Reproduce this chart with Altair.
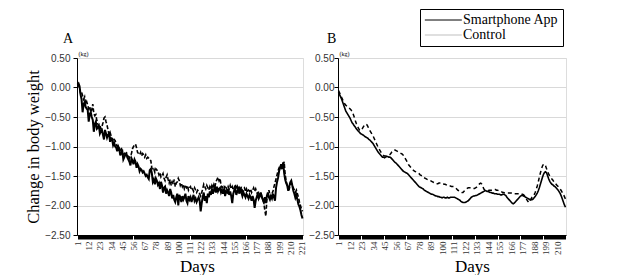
import altair as alt
import pandas as pd

# ---------------- data ----------------
a_app = [
    0.05, 0.07, 0.02, -0.12, -0.20, -0.42, -0.28, -0.25, -0.33, -0.36,
    -0.38, -0.58, -0.45, -0.42, -0.50, -0.55, -0.75, -0.62, -0.58, -0.70,
    -0.68, -0.65, -0.78, -0.74, -0.72, -0.80, -0.88, -0.72, -0.78, -0.85,
    -0.80, -0.78, -0.92, -0.86, -0.88, -0.98, -0.94, -1.00, -1.02, -1.08,
    -1.00, -1.04, -1.15, -1.10, -1.08, -1.22, -1.18, -1.14, -1.12, -1.18,
    -1.22, -1.26, -1.32, -1.20, -1.24, -1.30, -1.22, -1.26, -1.36, -1.30,
    -1.34, -1.42, -1.38, -1.40, -1.44, -1.42, -1.46, -1.50, -1.48, -1.52,
    -1.55, -1.40, -1.38, -1.45, -1.60, -1.56, -1.64, -1.54, -1.58, -1.65,
    -1.62, -1.72, -1.60, -1.66, -1.78, -1.70, -1.68, -1.80, -1.74, -1.78,
    -1.84, -1.72, -1.78, -1.88, -1.82, -1.90, -1.94, -1.86, -1.80, -2.00,
    -1.82, -1.86, -1.94, -1.84, -1.90, -1.86, -1.80, -1.92, -1.96, -1.84,
    -1.90, -1.86, -1.94, -1.88, -1.82, -1.92, -1.88, -1.94, -1.90, -1.86,
    -1.92, -2.10, -1.96, -1.86, -1.78, -1.92, -1.84, -1.96, -1.80, -1.86,
    -1.76, -1.82, -1.72, -1.80, -1.74, -1.70, -1.78, -1.68, -1.76, -1.72,
    -1.70, -1.78, -1.74, -1.80, -1.72, -1.84, -1.76, -1.78, -1.72, -1.82,
    -1.76, -1.84, -1.96, -1.80, -1.74, -1.72, -1.82, -1.76, -1.72, -1.80,
    -1.70, -1.78, -1.84, -1.78, -1.82, -1.86, -1.80, -1.84, -1.88, -1.82,
    -1.86, -1.92, -1.84, -1.90, -2.04, -1.92, -1.86, -1.80, -1.88, -1.84,
    -1.78, -1.86, -1.90, -1.94, -1.86, -1.96, -1.84, -1.78, -1.86, -1.90,
    -1.84, -1.88, -1.80, -1.86, -1.92, -1.70, -1.60, -1.53, -1.42, -1.36,
    -1.30, -1.38, -1.27, -1.45, -1.56, -1.62, -1.66, -1.75, -1.68, -1.61,
    -1.58, -1.66, -1.75, -1.80, -1.87, -1.82, -1.90, -1.98, -2.02, -2.08,
    -2.16, -2.22,
]
a_control = [
    0.06, 0.04, -0.02, -0.10, -0.08, -0.14, -0.20, -0.16, -0.28, -0.24,
    -0.30, -0.36, -0.32, -0.42, -0.38, -0.28, -0.44, -0.48, -0.46, -0.56,
    -0.62, -0.66, -0.64, -0.70, -0.66, -0.60, -0.52, -0.50, -0.58, -0.64,
    -0.72, -0.80, -0.76, -0.82, -0.86, -0.92, -0.88, -0.90, -0.96, -1.00,
    -0.98, -1.04, -1.06, -1.02, -1.10, -1.14, -1.12, -1.16, -1.10, -1.18,
    -1.14, -1.20, -1.16, -1.12, -1.04, -1.00, -0.98, -0.96, -1.02, -1.10,
    -1.12, -1.14, -1.10, -1.16, -1.12, -1.14, -1.18, -1.14, -1.20, -1.18,
    -1.20, -1.22, -1.24, -1.36, -1.40, -1.38, -1.44, -1.38, -1.40, -1.42,
    -1.48, -1.44, -1.52, -1.50, -1.46, -1.54, -1.58, -1.52, -1.48, -1.56,
    -1.62, -1.56, -1.66, -1.60, -1.64, -1.56, -1.68, -1.62, -1.60, -1.54,
    -1.58, -1.66, -1.62, -1.68, -1.64, -1.72, -1.68, -1.70, -1.66, -1.74,
    -1.70, -1.68, -1.74, -1.72, -1.76, -1.70, -1.74, -1.78, -1.74, -1.76,
    -1.80, -1.84, -1.78, -1.72, -1.64, -1.68, -1.72, -1.66, -1.70, -1.74,
    -1.68, -1.72, -1.66, -1.70, -1.64, -1.68, -1.60, -1.56, -1.52, -1.58,
    -1.54, -1.66, -1.70, -1.68, -1.72, -1.66, -1.70, -1.74, -1.68, -1.72,
    -1.66, -1.72, -1.68, -1.74, -1.70, -1.64, -1.72, -1.68, -1.76, -1.70,
    -1.74, -1.68, -1.76, -1.72, -1.70, -1.76, -1.72, -1.78, -1.74, -1.76,
    -1.72, -1.78, -1.74, -1.70, -1.76, -1.72, -1.78, -1.80, -1.76, -1.82,
    -1.78, -1.84, -1.90, -1.96, -2.08, -2.18, -1.90, -1.80, -1.74, -1.82,
    -1.86, -1.80, -1.76, -1.68, -1.62, -1.55, -1.48, -1.41, -1.36, -1.33,
    -1.36, -1.30, -1.32, -1.26, -1.48, -1.58, -1.66, -1.70, -1.72, -1.64,
    -1.62, -1.66, -1.70, -1.74, -1.78, -1.74, -1.80, -1.86, -1.94, -2.00,
    -2.06, -2.10,
]
b_app = [
    -0.08, -0.12, -0.16, -0.20, -0.25, -0.30, -0.35, -0.40, -0.43, -0.46,
    -0.49, -0.52, -0.56, -0.60, -0.62, -0.65, -0.67, -0.70, -0.72, -0.74,
    -0.76, -0.78, -0.79, -0.80, -0.81, -0.83, -0.84, -0.85, -0.86, -0.88,
    -0.89, -0.91, -0.93, -0.95, -0.98, -1.01, -1.04, -1.07, -1.10, -1.12,
    -1.14, -1.16, -1.18, -1.18, -1.19, -1.18, -1.17, -1.17, -1.18, -1.18,
    -1.19, -1.21, -1.23, -1.25, -1.27, -1.28, -1.30, -1.32, -1.34, -1.36,
    -1.38, -1.40, -1.42, -1.43, -1.44, -1.45, -1.46, -1.48, -1.50, -1.52,
    -1.54, -1.56, -1.58, -1.60, -1.62, -1.64, -1.66, -1.68, -1.69, -1.70,
    -1.71, -1.72, -1.74, -1.75, -1.76, -1.77, -1.78, -1.79, -1.80, -1.81,
    -1.81, -1.82, -1.83, -1.84, -1.84, -1.85, -1.85, -1.86, -1.86, -1.87,
    -1.86, -1.86, -1.87, -1.87, -1.86, -1.87, -1.87, -1.86, -1.86, -1.86,
    -1.86, -1.86, -1.87, -1.88, -1.89, -1.90, -1.91, -1.93, -1.94, -1.95,
    -1.95, -1.95, -1.94, -1.93, -1.92, -1.90, -1.88, -1.86, -1.85, -1.84,
    -1.84, -1.83, -1.83, -1.82, -1.81, -1.80, -1.79, -1.78, -1.77, -1.76,
    -1.75, -1.75, -1.76, -1.76, -1.77, -1.78, -1.78, -1.79, -1.79, -1.80,
    -1.80, -1.80, -1.81, -1.81, -1.81, -1.82, -1.82, -1.81, -1.81, -1.82,
    -1.83, -1.86, -1.88, -1.90, -1.92, -1.94, -1.96, -1.97, -1.96, -1.94,
    -1.92, -1.90, -1.88, -1.86, -1.84, -1.83, -1.83, -1.84, -1.85, -1.86,
    -1.87, -1.88, -1.89, -1.90, -1.90, -1.90, -1.89, -1.87, -1.85, -1.82,
    -1.79, -1.75, -1.70, -1.64, -1.58, -1.52, -1.47, -1.44, -1.43, -1.45,
    -1.50, -1.55, -1.59, -1.62, -1.64, -1.65, -1.67, -1.68, -1.70, -1.72,
    -1.74, -1.77, -1.80, -1.84, -1.89, -1.94, -1.99, -2.03,
]
b_control = [
    -0.05, -0.09, -0.13, -0.17, -0.21, -0.25, -0.28, -0.30, -0.32, -0.34,
    -0.35, -0.36, -0.38, -0.41, -0.45, -0.50, -0.56, -0.61, -0.65, -0.69,
    -0.72, -0.73, -0.72, -0.69, -0.66, -0.63, -0.62, -0.63, -0.66, -0.70,
    -0.73, -0.76, -0.79, -0.82, -0.86, -0.90, -0.94, -0.98, -1.02, -1.05,
    -1.08, -1.11, -1.13, -1.15, -1.16, -1.16, -1.16, -1.15, -1.15, -1.14,
    -1.12, -1.09, -1.07, -1.06, -1.06, -1.07, -1.08, -1.09, -1.10, -1.11,
    -1.12, -1.13, -1.15, -1.18, -1.21, -1.24, -1.28, -1.31, -1.33, -1.35,
    -1.37, -1.39, -1.41, -1.42, -1.43, -1.44, -1.45, -1.46, -1.48, -1.49,
    -1.50, -1.52, -1.53, -1.54, -1.55, -1.56, -1.57, -1.57, -1.58, -1.59,
    -1.60, -1.61, -1.62, -1.63, -1.63, -1.63, -1.62, -1.62, -1.62, -1.62,
    -1.63, -1.64, -1.64, -1.65, -1.66, -1.66, -1.67, -1.67, -1.68, -1.68,
    -1.68, -1.69, -1.70, -1.72, -1.74, -1.75, -1.76, -1.77, -1.78, -1.78,
    -1.76, -1.74, -1.72, -1.71, -1.70, -1.70, -1.70, -1.70, -1.71, -1.71,
    -1.71, -1.70, -1.69, -1.67, -1.65, -1.63, -1.62, -1.64, -1.68, -1.72,
    -1.74, -1.75, -1.75, -1.75, -1.74, -1.74, -1.74, -1.74, -1.73, -1.73,
    -1.73, -1.74, -1.74, -1.75, -1.75, -1.76, -1.77, -1.78, -1.78, -1.79,
    -1.79, -1.79, -1.79, -1.79, -1.79, -1.79, -1.79, -1.79, -1.80, -1.80,
    -1.80, -1.80, -1.80, -1.80, -1.80, -1.81, -1.81, -1.82, -1.84, -1.87,
    -1.90, -1.93, -1.95, -1.93, -1.89, -1.86, -1.84, -1.82, -1.78, -1.73,
    -1.67, -1.60, -1.52, -1.45, -1.38, -1.33, -1.30, -1.30, -1.33, -1.38,
    -1.43, -1.47, -1.50, -1.52, -1.55, -1.57, -1.60, -1.62, -1.64, -1.66,
    -1.68, -1.70, -1.72, -1.75, -1.78, -1.81, -1.85, -1.89,
]
series_names = ["Smartphone App", "Control"]
legend_colors = ["#000000", "#bfbfbf"]
y_ticks = [-2.5, -2.0, -1.5, -1.0, -0.5, 0.0, 0.5]
label_step = 11

SERIF = "Liberation Serif"
SANS = "Liberation Sans"


def make_df(app, ctrl):
    rows = []
    for i, v in enumerate(app):
        rows.append({"day": i + 1, "value": v, "series": series_names[0]})
    for i, v in enumerate(ctrl):
        rows.append({"day": i + 1, "value": v, "series": series_names[1]})
    return pd.DataFrame(rows)


def panel(app, ctrl, letter, width, letter_dx, show_ytitle, with_legend, app_w, ctrl_w, dash,
          title_x, ylab_pad):
    n = len(app)
    df = make_df(app, ctrl)
    days = list(range(1, n + 1))
    x = alt.X(
        "day:Q",
        scale=alt.Scale(domain=[0.5, n + 0.5], nice=False, zero=False),
        axis=alt.Axis(
            values=days,
            labelExpr=f"(datum.value - 1) % {label_step} == 0 ? datum.label : ''",
            labelAngle=270,
            labelAlign="right",
            labelBaseline="middle",
            labelOverlap=False,
            labelFlush=False,
            labelBound=False,
            labelPadding=2,
            labelFont=SERIF,
            labelFontSize=9,
            labelColor="#333333",
            grid=False,
            ticks=True,
            tickSize=4,
            tickColor="#000000",
            domainColor="#000000",
            title="Days",
            titleFont=SERIF,
            titleFontSize=17,
            titleFontWeight="normal",
            titleColor="#000000",
            titleX=title_x,
            titleY=36,
            titleBaseline="alphabetic",
        ),
    )
    y = alt.Y(
        "value:Q",
        scale=alt.Scale(domain=[-2.5, 0.5], nice=False, zero=False),
        axis=alt.Axis(
            values=y_ticks,
            format=".2f",
            labelOverlap=False,
            labelFont=SANS,
            labelFontSize=10,
            labelColor="#333333",
            labelPadding=ylab_pad,
            grid=True,
            gridColor="#d9d9d9",
            tickSize=4,
            tickColor="#000000",
            domainColor="#000000",
            title="Change in body weight" if show_ytitle else None,
            titleFont=SERIF,
            titleFontSize=16.5,
            titleFontWeight="normal",
            titleColor="#000000",
            titlePadding=3,
        ),
    )
    base = alt.Chart(df)
    ctrl_line = base.transform_filter(
        alt.datum.series == series_names[1]
    ).mark_line(color="black", strokeWidth=ctrl_w, strokeDash=dash).encode(x=x, y=y)
    app_line = base.transform_filter(
        alt.datum.series == series_names[0]
    ).mark_line(color="black", strokeWidth=app_w).encode(x=x, y=y)
    kg = alt.Chart(pd.DataFrame({"day": [2], "value": [0.5], "t": ["(kg)"]})).mark_text(
        align="left", baseline="bottom", dy=-1, font=SERIF, fontSize=6, color="#000000"
    ).encode(x=x, y=y, text="t:N")
    layers = [ctrl_line, app_line, kg]
    if with_legend:
        leg = base.mark_line(opacity=0, strokeWidth=1).encode(
            x=x, y=y,
            color=alt.Color(
                "series:N",
                scale=alt.Scale(domain=series_names, range=legend_colors),
                legend=alt.Legend(
                    title=None,
                    orient="none",
                    legendX=343,
                    legendY=-49,
                    direction="vertical",
                    strokeColor="#000000",
                    padding=4,
                    symbolType="M-1,0H5",
                    symbolSize=152,
                    symbolStrokeWidth=1,
                    symbolOpacity=1,
                    labelFont=SERIF,
                    labelFontSize=14,
                    labelColor="#000000",
                    labelOffset=25,
                    rowPadding=1,
                ),
            ),
        )
        layers = [leg] + layers
    return alt.layer(*layers).properties(
        width=width,
        height=177,
        title=alt.TitleParams(
            letter, anchor="start", frame="group", dx=letter_dx, font=SERIF, fontSize=14,
            fontWeight="normal", color="#000000", offset=5,
        ),
    )


pa = panel(a_app, a_control, "A", 226, -14, True, False, 2.0, 1.6, [4, 2], 120, 3)
pb = panel(b_app, b_control, "B", 228, -11, False, True, 1.6, 1.5, [4, 3], 134, 0)

chart = alt.hconcat(pa, pb, spacing=0).properties(
    padding={"left": 17, "top": 0, "right": 0, "bottom": 0}
).configure_view(stroke=None).configure(background="white")

chart.save("out.html", embed_options={"renderer": "svg", "actions": False})
